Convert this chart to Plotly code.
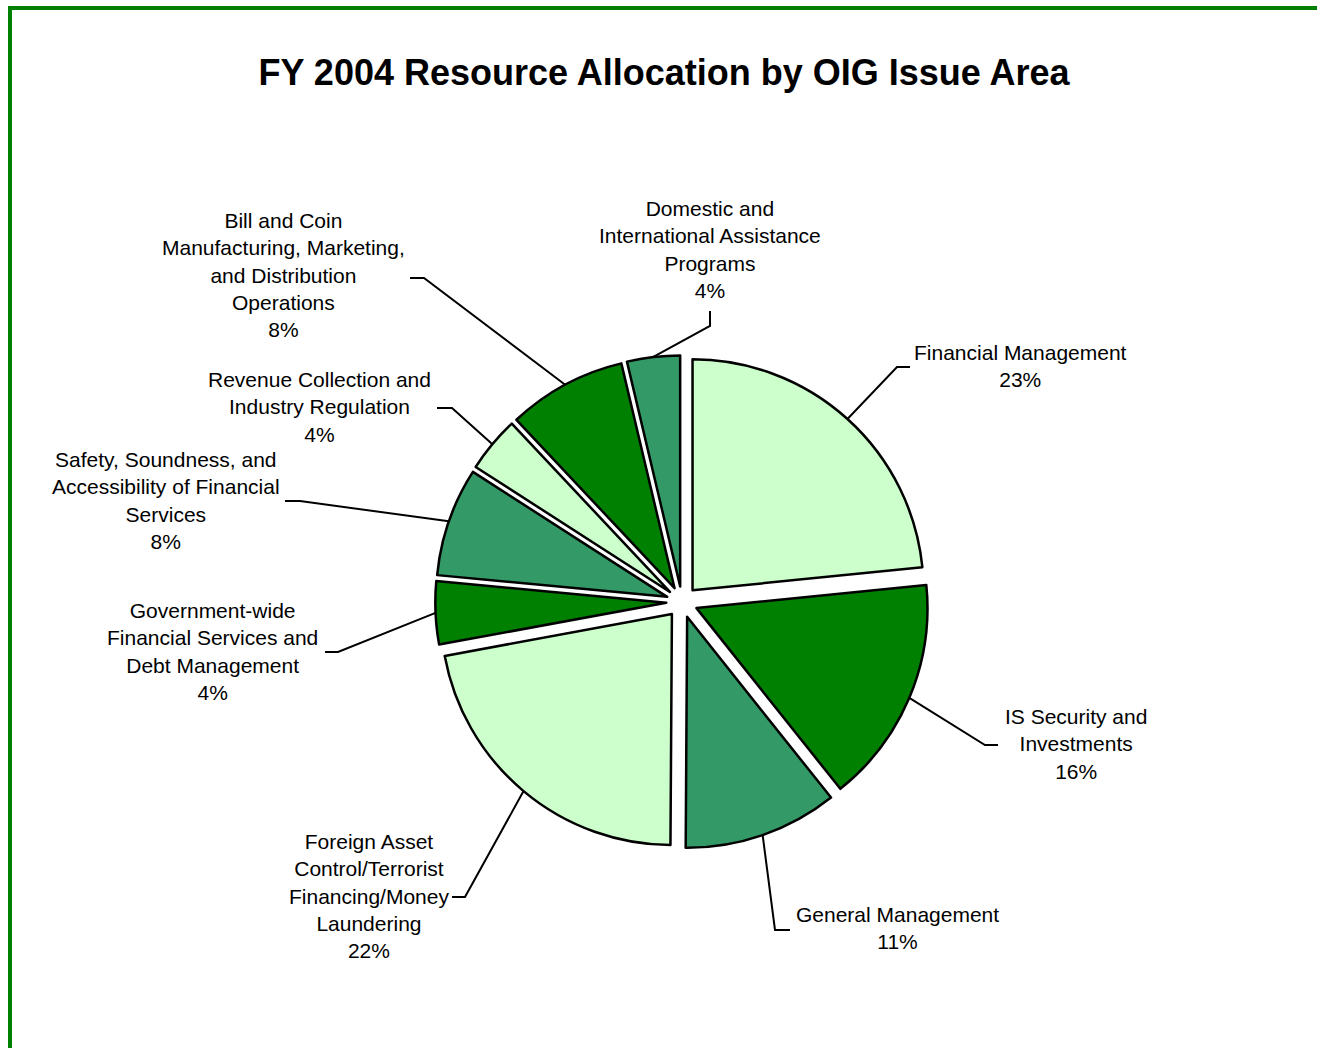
import math
import plotly.graph_objects as go

# ---- data ----
categories = [
    "Financial Management",
    "IS Security and Investments",
    "General Management",
    "Foreign Asset Control/Terrorist Financing/Money Laundering",
    "Government-wide Financial Services and Debt Management",
    "Safety, Soundness, and Accessibility of Financial Services",
    "Revenue Collection and Industry Regulation",
    "Bill and Coin Manufacturing, Marketing, and Distribution Operations",
    "Domestic and International Assistance Programs",
]
values = [23.4, 15.9, 10.8, 22.0, 4.4, 7.6, 3.9, 8.3, 3.7]
label_lines = [
    "Financial Management",
    "IS Security and<br>Investments",
    "General Management",
    "Foreign Asset<br>Control/Terrorist<br>Financing/Money<br>Laundering",
    "Government-wide<br>Financial Services and<br>Debt Management",
    "Safety, Soundness, and<br>Accessibility of Financial<br>Services",
    "Revenue Collection and<br>Industry Regulation",
    "Bill and Coin<br>Manufacturing, Marketing,<br>and Distribution<br>Operations",
    "Domestic and<br>International Assistance<br>Programs",
]
colors = ["#CCFFCC", "#008000", "#339966", "#CCFFCC", "#008000",
          "#339966", "#CCFFCC", "#008000", "#339966"]

# ---- layout constants (pixels) ----
W, H = 1317, 1048
CX, CY = 682, 602          # pie centre
R = 231                    # pie radius
PULL = 0.068

# label block centres and leader-line elbow / end points (pixels)
label_pos = [(1020, 366), (1076, 744), (897, 928), (369, 896), (212, 651),
             (166, 500), (319, 407), (283, 275), (710, 249)]
elbows = [(897, 367), (985, 745), (775, 930), (465, 897), (338, 652),
          (300, 501), (452, 408), (424, 278), (710, 326)]
ends = [(910, 367), (998, 745), (790, 930), (452, 897), (325, 652),
        (285, 501), (437, 408), (410, 278), (710, 311)]


def px(x):
    return x / W


def py(y):
    return 1 - y / H


half = R * (1 + PULL)
fig = go.Figure(go.Pie(
    labels=categories,
    values=values,
    sort=False,
    direction="clockwise",
    rotation=0,
    pull=[PULL] * len(values),
    marker=dict(colors=colors, line=dict(color="black", width=2.5)),
    textinfo="none",
    showlegend=False,
    domain=dict(x=[px(CX - half), px(CX + half)],
                y=[py(CY + half), py(CY - half)]),
))

total = sum(values)
shapes = []
annotations = []
cum = 0.0
for i, v in enumerate(values):
    mid = (cum + v / 2) / total
    cum += v
    th = 2 * math.pi * mid
    sx = CX + half * math.sin(th)
    sy = CY - half * math.cos(th)
    ex, ey = elbows[i]
    tx, ty = ends[i]
    shapes.append(dict(
        type="path", xref="paper", yref="paper",
        path=f"M {px(sx)} {py(sy)} L {px(ex)} {py(ey)} L {px(tx)} {py(ty)}",
        line=dict(color="black", width=2),
    ))
    pct = round(v / total * 100)
    lx, ly = label_pos[i]
    annotations.append(dict(
        x=px(lx), y=py(ly), xref="paper", yref="paper",
        xanchor="center", yanchor="middle", align="center",
        showarrow=False,
        text=f"{label_lines[i]}<br>{pct}%",
        font=dict(family="Liberation Sans, Arial, sans-serif", size=21, color="black"),
    ))

# green frame (top and left edges visible)
shapes.append(dict(type="line", xref="paper", yref="paper",
                   x0=px(8), y0=py(8), x1=px(W + 5), y1=py(8),
                   line=dict(color="#008000", width=4)))
shapes.append(dict(type="line", xref="paper", yref="paper",
                   x0=px(10), y0=py(6), x1=px(10), y1=py(H + 5),
                   line=dict(color="#008000", width=4)))

fig.update_layout(
    width=W, height=H,
    margin=dict(l=0, r=0, t=0, b=0),
    paper_bgcolor="white",
    plot_bgcolor="white",
    title=dict(
        text="<b>FY 2004 Resource Allocation by OIG Issue Area</b>",
        x=px(664), y=py(72), xanchor="center", yanchor="middle",
        font=dict(family="Liberation Sans, Arial, sans-serif", size=36, color="black"),
    ),
    shapes=shapes,
    annotations=annotations,
)

fig.write_html("out.html", config={"displayModeBar": False},
               post_script="document.body.style.margin='0';document.body.style.overflow='hidden';")
